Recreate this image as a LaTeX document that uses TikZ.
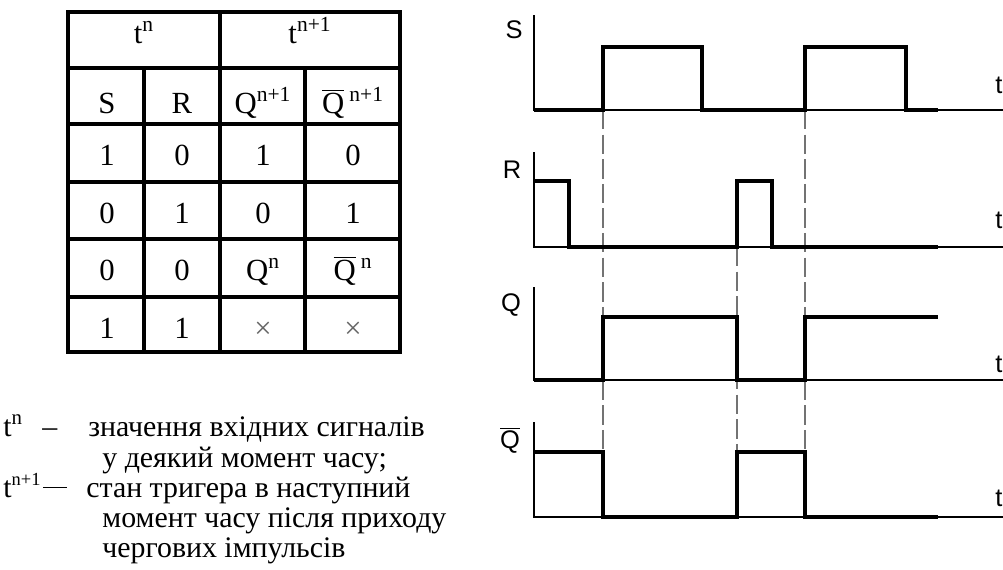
\documentclass[tikz,border=0pt]{standalone}
\usepackage{fontspec}
\setmainfont{Liberation Serif}
\newfontfamily\diagfont{Liberation Sans}
\newcommand\qbar{\ensuremath{\overline{\mbox{Q}}}}

\begin{document}
\begin{tikzpicture}[x=0.02cm, y=-0.02cm,
  grid/.style={line width=2.6pt},
  cell/.style={anchor=base, inner sep=0pt, font=\fontsize{17.5}{20}\selectfont},
  note/.style={anchor=base west, inner sep=0pt, font=\fontsize{17}{20}\selectfont},
  axis/.style={line width=1.1pt},
  signal/.style={line width=2.6pt, line join=miter},
  guide/.style={line width=0.6pt, black!55, dash pattern=on 11pt off 3pt},
  sig/.style={inner sep=0pt, font=\diagfont\fontsize{14.5}{17}\selectfont}]
\useasboundingbox (0,0) rectangle (1003,569);

% truth table
\draw[grid] (68,12) rectangle (400,352);
\draw[grid] (220,12) -- (220,352);
\draw[grid] (144,68) -- (144,352);
\draw[grid] (305,68) -- (305,352);
\foreach \y in {68,124,182,239,297}
  \draw[grid] (68,\y) -- (400,\y);

\node[cell] (tn) at (144,43) {t\textsuperscript{n}};
\node[cell] (tn1) at (310,43) {t\textsuperscript{n+1}};
\node[cell] (hs) at (107,113) {S};
\node[cell] (hr) at (182,113) {R};
\node[cell] (hq) at (263,113) {Q\textsuperscript{n+1}};
\node[cell] (hqb) at (353,113) {\qbar\,\textsuperscript{n+1}};

\foreach \s/\r/\q/\qq/\y [count=\i] in {1/0/1/0/165, 0/1/0/1/223,
    0/0/{Q\textsuperscript{n}}/{\qbar\,\textsuperscript{n}}/280,
    1/1/{\textcolor{black!60}{×}}/{\textcolor{black!60}{×}}/338}{
  \node[cell] (s\i) at (107,\y) {\s};
  \node[cell] (r\i) at (182,\y) {\r};
  \node[cell] (q\i) at (263,\y) {\q};
  \node[cell] (qb\i) at (353,\y) {\qq};
}

% notes under the table
\node[note] (k1) at (3,436) {t\textsuperscript{n}};
\node[note] (d1) at (42,436) {–};
\node[note] (l1) at (88,436) {значення вхідних сигналів};
\node[note] (l2) at (102,467) {у деякий момент часу;};
\node[note] (k3) at (3,497) {t\textsuperscript{\fontsize{10.5}{12}\selectfont n+1}};
\node[note] (d3) at (43,497) {\rule[0.3em]{0.78em}{0.05em}};
\node[note] (l3) at (86,497) {стан тригера в наступний};
\node[note] (l4) at (102,527) {момент часу після приходу};
\node[note] (l5) at (102,557) {чергових імпульсів};

% timing diagrams
\draw[guide] (603,110) -- (603,452);
\draw[guide] (737,247) -- (737,452);
\draw[guide] (805,110) -- (805,452);

\foreach \ya/\yb in {15/110,152/247,287/380,422/517}
  \draw[axis] (534,\ya) -- (534,\yb) -- (1003,\yb);

\draw[signal] (534,110) -- (603,110) -- (603,47) -- (702,47) -- (702,110)
  -- (805,110) -- (805,47) -- (906,47) -- (906,110) -- (938,110);
\draw[signal] (535,181) -- (569,181) -- (569,247) -- (737,247) -- (737,181)
  -- (772,181) -- (772,247) -- (938,247);
\draw[signal] (534,380) -- (603,380) -- (603,317) -- (737,317) -- (737,380)
  -- (805,380) -- (805,317) -- (938,317);
\draw[signal] (535,452) -- (603,452) -- (603,517) -- (737,517) -- (737,452)
  -- (805,452) -- (805,517) -- (938,517);

\node[sig] (ls) at (514,30) {S};
\node[sig] (lr) at (512,170) {R};
\node[sig] (lq) at (511,305) {Q};
\node[sig] (lqb) at (510,440) {\qbar};
\node[sig, anchor=west] (ts) at (995,85) {t};
\node[sig, anchor=west] (tr) at (995,220) {t};
\node[sig, anchor=west] (tq) at (995,364) {t};
\node[sig, anchor=west] (tqb) at (995,498) {t};
\end{tikzpicture}
\end{document}
